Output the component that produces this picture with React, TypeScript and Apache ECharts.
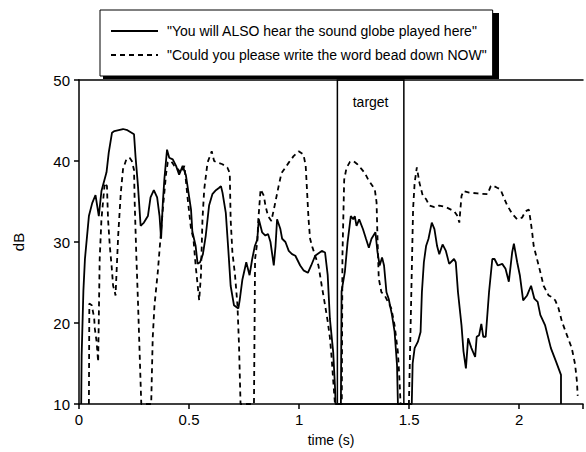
import React, { useEffect, useRef } from "react";
import * as echarts from "echarts";

const seriesNames = [
  "\"You will ALSO hear the sound globe played here\"",
  "\"Could you please write the word bead down NOW\"",
];

const solidTime = [
  0.010, 0.012, 0.02, 0.027, 0.045, 0.06, 0.075, 0.09, 0.102, 0.125, 0.135, 0.15, 0.161, 0.2, 0.22, 0.25,
  0.257, 0.268, 0.28, 0.295, 0.313, 0.325, 0.34, 0.355, 0.366, 0.373, 0.381, 0.388, 0.4, 0.41, 0.426,
  0.441, 0.455, 0.471, 0.486, 0.509, 0.515, 0.53, 0.539, 0.55, 0.563, 0.576, 0.591, 0.606, 0.622, 0.637,
  0.645, 0.652, 0.667, 0.679, 0.689, 0.704, 0.724, 0.73, 0.742, 0.76, 0.775, 0.787, 0.799, 0.81, 0.817,
  0.832, 0.847, 0.859, 0.87, 0.885, 0.893, 0.9, 0.915, 0.923, 0.938, 0.953, 0.968, 0.983, 1.005, 1.02,
  1.04, 1.055, 1.073, 1.103, 1.118, 1.13, 1.14, 1.155, 1.163, 1.166, 1.19, 1.193, 1.208, 1.22, 1.235,
  1.246, 1.253, 1.261, 1.273, 1.29, 1.304, 1.317, 1.329, 1.347, 1.356, 1.366, 1.377, 1.386, 1.397, 1.407,
  1.422, 1.434, 1.445, 1.449, 1.512, 1.516, 1.525, 1.54, 1.552, 1.558, 1.567, 1.577, 1.588, 1.603, 1.615,
  1.627, 1.637, 1.652, 1.667, 1.682, 1.704, 1.712, 1.722, 1.738, 1.747, 1.758, 1.768, 1.783, 1.8, 1.807,
  1.818, 1.828, 1.837, 1.848, 1.863, 1.878, 1.888, 1.903, 1.923, 1.938, 1.953, 1.968, 1.976, 1.991, 2.003,
  2.018, 2.036, 2.054, 2.069, 2.084, 2.096, 2.118, 2.129, 2.144, 2.168, 2.19, 2.19,
];
const solidDb = [
  10, 16, 24, 27.9, 33.2, 34.8, 35.8, 33.2, 36.3, 38.6, 41.0, 43.5, 43.7, 43.95, 43.8, 43.3,
  40.5, 36.9, 32.0, 32.4, 33.2, 35.5, 36.4, 35.5, 33.2, 30.4, 34.9, 37.8, 41.4, 40.4, 40.2,
  39.4, 38.3, 39.4, 38.2, 34.0, 31.3, 29.5, 27.3, 27.5, 28.5, 30.8, 34.5, 35.9, 36.4, 36.7,
  36.9, 36.1, 33.6, 28.8, 24.6, 22.2, 21.8, 22.8, 25.3, 27.5, 25.9, 27.9, 29.5, 30.3, 32.8,
  31.2, 30.8, 31.0, 30.0, 27.1, 29.5, 32.8, 31.6, 30.4, 30.0, 28.9, 28.5, 28.3, 27.1, 26.5,
  26.2, 27.1, 28.3, 28.9, 28.7, 25.9, 20.5, 16.4, 12.2, 10, 10, 23.9, 26.3, 29.9, 33.2,
  32.8, 33.2, 32.0, 32.8, 31.6, 30.4, 29.3, 30.4, 31.2, 28.8, 27.1, 28.1, 27.1, 23.8, 23.0,
  21.0, 18.9, 14.8, 10, 10, 15.0, 16.9, 17.7, 18.9, 23.8, 27.5, 29.5, 30.4, 32.4, 31.6,
  29.5, 28.5, 29.7, 28.9, 27.3, 27.9, 27.5, 23.8, 19.7, 16.5, 14.4, 18.1, 16.9, 15.8, 18.3,
  18.5, 19.9, 18.3, 18.3, 23.8, 27.9, 27.9, 27.1, 27.3, 26.7, 25.1, 28.7, 29.8, 27.5, 25.9,
  22.8, 23.4, 24.6, 23.0, 22.6, 21.0, 19.7, 18.5, 16.9, 15.2, 13.6, 10,
];

const dashedTime = [
  0.045, 0.047, 0.058, 0.069, 0.072, 0.08, 0.087, 0.094, 0.102, 0.117, 0.127, 0.132, 0.14, 0.148, 0.155,
  0.163, 0.166, 0.178, 0.19, 0.2, 0.215, 0.23, 0.24, 0.25, 0.253, 0.26, 0.268, 0.283, 0.328, 0.335,
  0.343, 0.358, 0.37, 0.381, 0.396, 0.403, 0.418, 0.433, 0.449, 0.464, 0.479, 0.494, 0.509, 0.52, 0.53,
  0.546, 0.554, 0.561, 0.569, 0.584, 0.603, 0.614, 0.629, 0.652, 0.674, 0.685, 0.689, 0.697, 0.709, 0.72,
  0.727, 0.734, 0.795, 0.8, 0.81, 0.815, 0.825, 0.84, 0.847, 0.859, 0.874, 0.889, 0.907, 0.92, 0.938,
  0.953, 0.975, 0.998, 1.02, 1.03, 1.035, 1.043, 1.05, 1.06, 1.073, 1.088, 1.103, 1.118, 1.13, 1.14,
  1.148, 1.155, 1.163, 1.194, 1.197, 1.205, 1.215, 1.231, 1.246, 1.265, 1.284, 1.299, 1.314, 1.329, 1.344,
  1.352, 1.356, 1.362, 1.374, 1.389, 1.404, 1.419, 1.434, 1.449, 1.456, 1.461, 1.499, 1.51, 1.518, 1.525,
  1.535, 1.547, 1.562, 1.577, 1.592, 1.615, 1.637, 1.667, 1.69, 1.705, 1.72, 1.728, 1.738, 1.747, 1.773,
  1.81, 1.856, 1.871, 1.878, 1.9, 1.915, 1.93, 1.946, 1.968, 1.991, 2.013, 2.029, 2.044, 2.051, 2.059,
  2.066, 2.081, 2.096, 2.111, 2.134, 2.149, 2.164, 2.179, 2.194, 2.217, 2.239, 2.254, 2.262, 2.266,
];
const dashedDb = [
  10, 22.4, 22.2, 20.6, 19.3, 17.7, 15.2, 27.9, 32.8, 37.3, 36.9, 32.8, 29.5, 27.1, 24.6,
  23.8, 23.4, 30.8, 36.1, 39.0, 40.2, 40.4, 40.0, 38.9, 34.9, 28.7, 22.6, 10, 10, 18.2,
  22.2, 26.3, 30.4, 34.1, 38.5, 39.8, 40.0, 39.4, 39.0, 38.5, 39.4, 35.3, 31.6, 30.4, 27.1,
  22.8, 25.9, 32.8, 36.5, 39.8, 41.2, 40.0, 39.8, 39.6, 39.2, 38.5, 32.8, 28.7, 25.9, 22.2,
  17.3, 10, 10, 27.9, 30.0, 32.8, 36.5, 35.7, 34.5, 33.2, 32.6, 34.5, 36.9, 38.5, 39.2,
  39.8, 40.6, 41.2, 40.8, 39.4, 36.9, 32.8, 30.4, 29.4, 28.3, 27.1, 24.6, 22.2, 20.2, 18.2,
  15.7, 12.9, 10, 10, 28.3, 37.7, 39.1, 39.9, 40.0, 39.6, 39.0, 38.5, 37.7, 37.1, 36.5,
  34.9, 30.8, 25.5, 23.8, 23.4, 22.6, 21.8, 19.7, 16.4, 13.1, 10, 10, 23.8, 34.1, 37.3,
  39.2, 37.3, 35.7, 35.3, 34.5, 34.3, 34.5, 34.3, 34.0, 33.8, 33.2, 32.4, 35.7, 36.3, 36.1,
  36.0, 35.9, 36.9, 37.0, 36.7, 36.5, 35.5, 34.5, 33.5, 32.8, 33.0, 33.8, 34.0, 32.8, 31.2,
  29.5, 27.9, 26.3, 24.6, 23.4, 23.2, 22.8, 21.8, 20.2, 18.5, 16.9, 14.9, 12.9, 11,
];

const targetRange = [1.174, 1.476];
const targetLabel = "target";
const xTicks = [0, 0.5, 1, 1.5, 2];
const yTicks = [10, 20, 30, 40, 50];

const FONT = "'Liberation Sans', Arial, Helvetica, sans-serif";

function zip(a: number[], b: number[]) {
  return a.map((t, i) => [t, b[i]]);
}

export default function App() {
  const ref = useRef<HTMLDivElement>(null);
  useEffect(() => {
    document.body.style.margin = "0";
    if (!ref.current) return;
    const chart = echarts.init(ref.current, undefined, { renderer: "svg" });
    const xMin = xTicks[0];
    const xMax = 2.29;
    const axisColor = "#000";
    chart.setOption({
      animation: false,
      backgroundColor: "#fff",
      textStyle: { fontFamily: FONT, color: "#000" },
      grid: { left: 79, top: 80, right: 0, bottom: 46, containLabel: false },
      graphic: [
        {
          type: "rect",
          left: 103,
          top: 13,
          z: 1,
          shape: { width: 396, height: 66 },
          style: { fill: "#000" },
        },
      ],
      legend: {
        show: true,
        orient: "vertical",
        left: 100,
        top: 10,
        z: 10,
        padding: [14, 6, 14, 10],
        itemWidth: 47,
        itemHeight: 14,
        itemGap: 10,
        backgroundColor: "#fff",
        borderColor: "#000",
        borderWidth: 1,
        itemStyle: { opacity: 0, color: "transparent", borderWidth: 0 },
        textStyle: { fontFamily: FONT, fontSize: 14, color: "#000", padding: [0, 0, 0, 4] },
        data: seriesNames,
      },
      xAxis: [
        {
          type: "value",
          min: xMin,
          max: xMax,
          interval: 0.5,
          name: "time (s)",
          nameLocation: "middle",
          nameGap: 29,
          nameTextStyle: { fontFamily: FONT, fontSize: 14, color: "#000" },
          axisLine: { show: true, onZero: false, lineStyle: { color: axisColor, width: 1.5 } },
          axisTick: { show: true, length: 5, lineStyle: { color: axisColor, width: 1.5 } },
          axisLabel: {
            fontFamily: FONT,
            fontSize: 15,
            color: "#000",
            margin: 8,
            formatter: (v: number) => (xTicks.includes(v) ? String(v) : ""),
          },
          splitLine: { show: false },
        },
        {
          type: "value",
          position: "top",
          min: xMin,
          max: xMax,
          axisLine: { show: true, onZero: false, lineStyle: { color: axisColor, width: 1.5 } },
          axisTick: { show: false },
          axisLabel: { show: false },
          splitLine: { show: false },
        },
      ],
      yAxis: {
        type: "value",
        min: yTicks[0],
        max: yTicks[yTicks.length - 1],
        interval: 10,
        name: "dB",
        nameLocation: "middle",
        nameRotate: 90,
        nameGap: 53,
        nameTextStyle: { fontFamily: FONT, fontSize: 15, color: "#000" },
        axisLine: { show: true, lineStyle: { color: axisColor, width: 1.5 } },
        axisTick: { show: true, length: 5, lineStyle: { color: axisColor, width: 1.5 } },
        axisLabel: { fontFamily: FONT, fontSize: 15, color: "#000", margin: 9 },
        splitLine: { show: false },
      },
      series: [
        {
          name: seriesNames[0],
          type: "line",
          data: zip(solidTime, solidDb),
          showSymbol: false,
          symbol: "none",
          lineStyle: { color: "#000", width: 1.8, type: "solid" },
          itemStyle: { color: "#000" },
          markArea: {
            silent: true,
            itemStyle: { color: "rgba(0,0,0,0)", borderColor: "#000", borderWidth: 1.5 },
            label: {
              show: true,
              position: "insideTop",
              distance: 16,
              fontFamily: FONT,
              fontSize: 14,
              color: "#000",
            },
            data: [[{ name: targetLabel, xAxis: targetRange[0] }, { xAxis: targetRange[1] }]],
          },
        },
        {
          name: seriesNames[1],
          type: "line",
          data: zip(dashedTime, dashedDb),
          showSymbol: false,
          symbol: "none",
          lineStyle: { color: "#000", width: 1.8, type: [5, 4] },
          itemStyle: { color: "#000" },
        },
      ],
    });
    return () => chart.dispose();
  }, []);
  return <div ref={ref} style={{ width: 586, height: 452 }} />;
}
